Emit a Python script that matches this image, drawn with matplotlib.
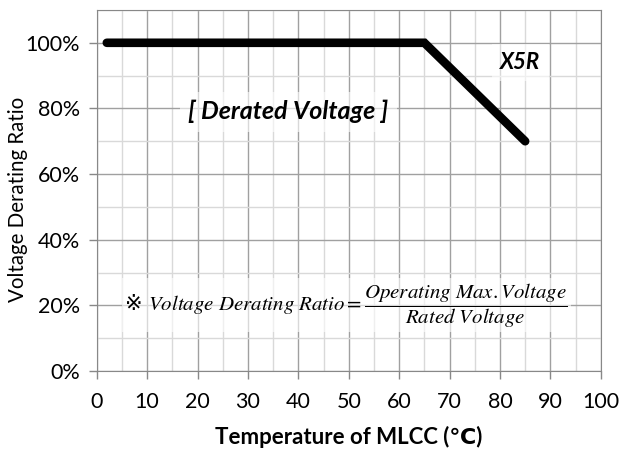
import matplotlib
matplotlib.use('Agg')
import matplotlib.pyplot as plt
from matplotlib.ticker import MultipleLocator, PercentFormatter

# derating curve (X5R)
temp = [2, 65, 85]
ratio = [100, 100, 70]
xticks = list(range(0, 101, 10))
yticks = list(range(0, 101, 20))

plt.rcParams['font.family'] = ['Lato', 'DejaVu Sans']
plt.rcParams['mathtext.fontset'] = 'stix'

fig = plt.figure(figsize=(6.2, 4.53), dpi=100)
ax = fig.add_axes([0.156, 0.181, 0.813, 0.797])

ax.plot(temp, ratio, color='black', linewidth=6.2, solid_capstyle='round',
        solid_joinstyle='miter', zorder=3)

ax.set_xlim(0, 100)
ax.set_ylim(0, 110)
ax.set_xticks(xticks)
ax.set_yticks(yticks)
ax.xaxis.set_minor_locator(MultipleLocator(5))
ax.yaxis.set_minor_locator(MultipleLocator(10))
ax.yaxis.set_major_formatter(PercentFormatter(decimals=0))
ax.grid(which='major', color='#a0a0a0', linewidth=1.0)
ax.grid(which='minor', color='#d9d9d9', linewidth=1.0)
ax.set_axisbelow(True)
ax.tick_params(which='major', length=6, width=1, color='#888888', labelsize=15.5)
ax.tick_params(axis='x', pad=9)
ax.tick_params(axis='y', pad=6)
ax.tick_params(which='minor', length=0)
for s in ax.spines.values():
    s.set_color('#888888')

ax.set_xlabel('Temperature of MLCC (\u2103)', fontsize=16, fontweight='bold', labelpad=10)
ax.set_ylabel('Voltage Derating Ratio', fontsize=14.8)
ax.yaxis.set_label_coords(-0.157, 0.474)
ax.yaxis.label.set_va('center')

box = dict(facecolor='white', edgecolor='none', alpha=0.6, pad=6)
ax.text(38, 79, '[ Derated Voltage ]', fontsize=18, fontweight='bold', style='italic',
        ha='center', va='center', bbox=box, zorder=4)
ax.text(84, 94, 'X5R', fontsize=16, fontweight='bold', style='italic',
        ha='center', va='center', bbox=box, zorder=4)

ax.text(5.5, 20, '\u203b $Voltage\\ Derating\\ Ratio = '
        '\\dfrac{Operating\\ Max.Voltage}{Rated\\ Voltage}$',
        fontsize=15, ha='left', va='center', family=['DejaVu Sans'],
        bbox=dict(facecolor='white', edgecolor='none', alpha=0.6, pad=2), zorder=4)

fig.savefig('out.png', dpi=100)
plt.close(fig)
